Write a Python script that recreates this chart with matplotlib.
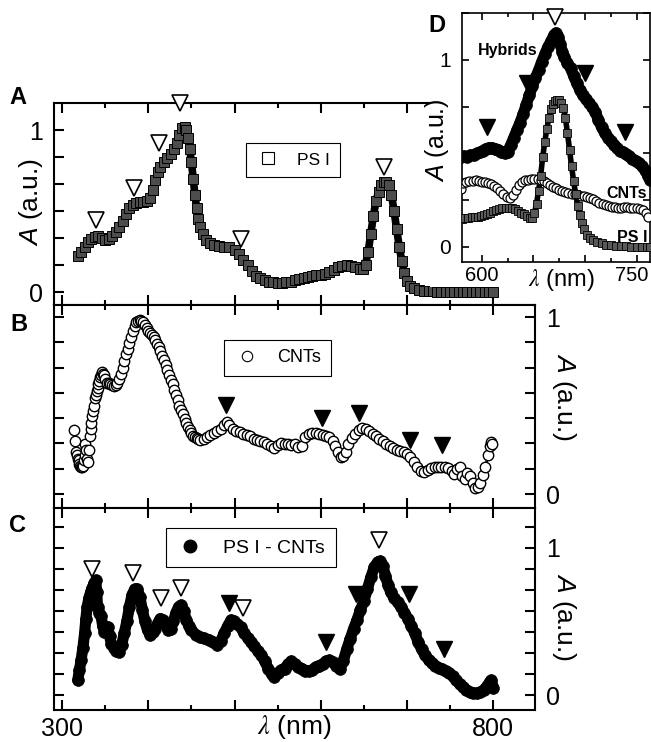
import matplotlib.pyplot as plt
import numpy as np
from matplotlib.lines import Line2D
from matplotlib.patches import Rectangle
from matplotlib.ticker import FixedLocator, MultipleLocator, FuncFormatter, NullFormatter

plt.rcParams['font.family'] = ['Liberation Sans', 'DejaVu Sans']
plt.rcParams['mathtext.fontset'] = 'custom'
plt.rcParams['mathtext.it'] = 'Liberation Sans:italic'
plt.rcParams['mathtext.rm'] = 'Liberation Sans'

# ---- panel A: PS I (nm, a.u.) ----
wl_psi = [318, 322, 326, 330, 334, 338, 342, 346, 350, 354, 358, 362, 366, 370, 374,
          378, 382, 386, 390, 394, 398, 402, 405, 408, 411, 414, 418, 422, 426, 430,
          433, 436, 439, 442, 444, 446, 448, 450, 452, 454, 456, 458, 460, 463, 467,
          471, 476, 482, 488, 494, 500, 505, 510, 515, 520, 525, 530, 535, 540, 545,
          550, 555, 560, 565, 570, 575, 580, 585, 590, 595, 600, 605, 610, 615, 620,
          625, 630, 635, 640, 645, 649, 652, 655, 658, 661, 664, 667, 670, 673, 676,
          679, 682, 685, 688, 691, 694, 697, 700, 704, 708, 714, 720, 725, 730, 735,
          740, 745, 750, 755, 760, 765, 770, 775, 780, 785, 790, 795, 800]
a_psi = [0.22, 0.25, 0.28, 0.31, 0.33, 0.34, 0.345, 0.335, 0.32, 0.325, 0.345, 0.37,
         0.40, 0.44, 0.48, 0.52, 0.54, 0.55, 0.555, 0.555, 0.565, 0.58, 0.63, 0.69,
         0.74, 0.77, 0.80, 0.83, 0.855, 0.88, 0.92, 0.97, 1.01, 1.02, 1.0, 0.95, 0.88,
         0.80, 0.70, 0.60, 0.52, 0.45, 0.40, 0.36, 0.32, 0.30, 0.29, 0.285, 0.28, 0.275,
         0.26, 0.235, 0.20, 0.165, 0.13, 0.10, 0.085, 0.072, 0.064, 0.06, 0.057, 0.057,
         0.06, 0.065, 0.072, 0.08, 0.088, 0.095, 0.10, 0.104, 0.107, 0.11, 0.122, 0.137,
         0.152, 0.163, 0.166, 0.16, 0.152, 0.142, 0.14, 0.17, 0.25, 0.36, 0.47, 0.56,
         0.62, 0.66, 0.68, 0.68, 0.66, 0.60, 0.50, 0.39, 0.28, 0.19, 0.12, 0.07, 0.04,
         0.022, 0.012, 0.008, 0.005, 0.004, 0.003, 0.003, 0.002, 0.002, 0.002, 0.001,
         0.001, 0.001, 0.001, 0.0, 0.0, 0.0, 0.0, 0.0]
tri_a_open_wl = [339, 383, 412, 437, 508, 673]
tri_a_open_y = [0.444, 0.64, 0.92, 1.165, 0.33, 0.77]

# ---- panel B: CNTs ----
wl_cnt = [314, 315, 316, 317, 318, 319, 320, 321, 322, 323, 324, 325, 326, 327, 328,
          329, 330, 331, 332, 333, 334, 335, 336, 337, 338, 339, 340, 341, 342, 343,
          344, 345, 346, 347, 348, 350, 352, 354, 356, 358, 360, 362, 364, 366, 368,
          370, 372, 374, 376, 378, 380, 382, 384, 386, 388, 390, 392, 394, 396, 398,
          400, 402, 404, 406, 408, 410, 412, 414, 416, 418, 420, 422, 424, 426, 428,
          430, 432, 434, 436, 438, 440, 442, 444, 446, 448, 450, 452, 454, 456, 458,
          460, 464, 468, 472, 476, 480, 484, 488, 491, 494, 498, 502, 506, 510, 514,
          518, 522, 526, 530, 534, 538, 542, 546, 550, 554, 558, 562, 566, 570, 574,
          578, 582, 586, 590, 594, 598, 602, 606, 610, 614, 617, 620, 623, 626, 629,
          632, 636, 640, 644, 648, 652, 656, 660, 664, 668, 672, 676, 680, 684, 688,
          692, 696, 700, 704, 708, 712, 716, 720, 724, 728, 732, 736, 740, 744, 748,
          752, 755, 758, 761, 764, 767, 770, 773, 776, 779, 782, 785, 788, 791, 794,
          796, 798, 799]
a_cnt = [0.36, 0.30, 0.24, 0.22, 0.20, 0.19, 0.17, 0.16, 0.15, 0.155, 0.16, 0.19, 0.22,
         0.28, 0.25, 0.20, 0.18, 0.25, 0.33, 0.37, 0.40, 0.44, 0.47, 0.50, 0.54, 0.56,
         0.58, 0.60, 0.62, 0.64, 0.66, 0.675, 0.69, 0.68, 0.67, 0.65, 0.63, 0.625, 0.62,
         0.615, 0.61, 0.615, 0.63, 0.65, 0.68, 0.71, 0.75, 0.79, 0.82, 0.855, 0.885,
         0.92, 0.95, 0.97, 0.98, 0.985, 0.98, 0.97, 0.955, 0.94, 0.92, 0.91, 0.90, 0.885,
         0.87, 0.85, 0.83, 0.81, 0.78, 0.755, 0.73, 0.70, 0.67, 0.645, 0.62, 0.59, 0.56,
         0.53, 0.50, 0.475, 0.45, 0.425, 0.40, 0.38, 0.36, 0.345, 0.33, 0.32, 0.315, 0.31,
         0.305, 0.31, 0.32, 0.335, 0.345, 0.355, 0.37, 0.39, 0.405, 0.39, 0.37, 0.355,
         0.35, 0.34, 0.335, 0.325, 0.31, 0.305, 0.30, 0.295, 0.28, 0.27, 0.26, 0.275,
         0.29, 0.285, 0.28, 0.275, 0.28, 0.265, 0.27, 0.32, 0.34, 0.345, 0.345, 0.34,
         0.335, 0.33, 0.32, 0.30, 0.27, 0.235, 0.21, 0.215, 0.24, 0.28, 0.315, 0.34,
         0.36, 0.375, 0.37, 0.355, 0.34, 0.325, 0.31, 0.30, 0.285, 0.27, 0.26, 0.25,
         0.245, 0.235, 0.225, 0.21, 0.18, 0.15, 0.13, 0.125, 0.135, 0.145, 0.15, 0.15,
         0.155, 0.15, 0.145, 0.13, 0.115, 0.14, 0.15, 0.10, 0.085, 0.12, 0.10, 0.06,
         0.035, 0.04, 0.06, 0.11, 0.15, 0.22, 0.27, 0.295, 0.28]
tri_b_fill_wl = [490, 601, 644, 704, 741]
tri_b_fill_y = [0.505, 0.43, 0.46, 0.307, 0.278]

# ---- panel C: PS I - CNTs ----
wl_mix = [318, 320, 322, 324, 326, 327.5, 329, 331, 333, 335, 337, 339, 340, 341, 343,
          345, 347, 349, 351, 353, 355, 357, 360, 363, 366, 369, 372, 375, 378, 381,
          384, 387, 390, 393, 396, 399, 402, 405, 408, 411, 414, 417, 420, 423, 426,
          429, 432, 435, 438, 441, 444, 447, 450, 455, 460, 465, 470, 475, 480, 484,
          488, 492, 496, 499, 503, 507, 511, 515, 519, 523, 527, 531, 535, 539, 543,
          546, 550, 554, 558, 562, 566, 570, 574, 578, 582, 586, 590, 594, 598, 602,
          606, 610, 614, 618, 622, 626, 630, 634, 638, 642, 646, 650, 654, 658, 662,
          666, 669, 672, 675, 678, 681, 685, 689, 693, 697, 701, 705, 709, 713, 717,
          721, 725, 729, 733, 737, 741, 745, 749, 753, 757, 761, 765, 769, 773, 777,
          781, 785, 789, 793, 796, 798, 800]
a_mix = [0.10, 0.17, 0.24, 0.32, 0.42, 0.52, 0.60, 0.66, 0.70, 0.73, 0.76, 0.78, 0.70,
         0.60, 0.56, 0.54, 0.47, 0.43, 0.46, 0.46, 0.40, 0.35, 0.32, 0.30, 0.295, 0.34,
         0.42, 0.50, 0.60, 0.68, 0.72, 0.72, 0.67, 0.58, 0.50, 0.44, 0.41, 0.43, 0.45,
         0.49, 0.52, 0.51, 0.48, 0.44, 0.45, 0.50, 0.56, 0.60, 0.61, 0.57, 0.51, 0.47,
         0.44, 0.41, 0.395, 0.385, 0.375, 0.36, 0.34, 0.37, 0.42, 0.47, 0.51, 0.50, 0.48,
         0.46, 0.42, 0.39, 0.36, 0.33, 0.30, 0.27, 0.23, 0.18, 0.14, 0.12, 0.15, 0.17,
         0.18, 0.21, 0.23, 0.21, 0.19, 0.18, 0.165, 0.16, 0.17, 0.19, 0.20, 0.21, 0.23,
         0.235, 0.225, 0.20, 0.175, 0.23, 0.31, 0.38, 0.45, 0.51, 0.58, 0.64, 0.72, 0.80,
         0.87, 0.905, 0.91, 0.88, 0.81, 0.75, 0.70, 0.66, 0.63, 0.60, 0.56, 0.52, 0.47,
         0.42, 0.36, 0.31, 0.27, 0.24, 0.22, 0.20, 0.185, 0.175, 0.16, 0.15, 0.13, 0.10,
         0.075, 0.055, 0.035, 0.02, 0.012, 0.012, 0.02, 0.035, 0.06, 0.09, 0.10, 0.05]
tri_c_open_wl = [335, 382, 415, 438, 510, 668]
tri_c_open_y = [0.86, 0.83, 0.66, 0.726, 0.595, 1.054]
tri_c_fill_wl = [494, 606, 641, 702, 743]
tri_c_fill_y = [0.624, 0.363, 0.69, 0.687, 0.313]

# ---- panel D: red region, three samples ----
wl_d_hyb = [580, 583, 586, 589, 592, 595, 598, 601, 604, 607, 610, 613, 616, 619, 622,
            625, 628, 631, 634, 637, 640, 643, 646, 649, 652, 655, 658, 661, 664, 667,
            670, 672, 674, 676, 678, 680, 683, 686, 689, 692, 695, 698, 701, 704, 707,
            710, 713, 716, 719, 722, 725, 728, 731, 734, 737, 740, 743, 746, 749, 752,
            755, 758, 761, 763]
a_d_hyb = [0.48, 0.485, 0.48, 0.49, 0.49, 0.50, 0.505, 0.515, 0.525, 0.53, 0.53, 0.525,
           0.52, 0.51, 0.50, 0.51, 0.545, 0.585, 0.625, 0.665, 0.71, 0.76, 0.81, 0.86,
           0.905, 0.945, 0.99, 1.03, 1.07, 1.10, 1.135, 1.145, 1.125, 1.085, 1.045, 1.015,
           0.985, 0.955, 0.915, 0.875, 0.84, 0.81, 0.79, 0.77, 0.75, 0.72, 0.68, 0.64,
           0.61, 0.585, 0.565, 0.545, 0.53, 0.515, 0.505, 0.495, 0.485, 0.47, 0.46, 0.45,
           0.435, 0.41, 0.38, 0.36]
wl_d_cnt = [580, 582, 585, 588, 591, 594, 597, 600, 603, 606, 609, 612, 615, 618, 621,
            624, 627, 630, 633, 636, 639, 642, 645, 648, 651, 654, 657, 660, 663, 666,
            669, 672, 675, 678, 681, 684, 687, 690, 693, 696, 699, 702, 705, 708, 711,
            714, 717, 720, 723, 726, 729, 732, 735, 738, 741, 744, 747, 750, 753, 756,
            759, 761]
a_d_cnt = [0.31, 0.34, 0.345, 0.35, 0.35, 0.355, 0.35, 0.345, 0.345, 0.34, 0.335, 0.325,
           0.315, 0.30, 0.285, 0.265, 0.26, 0.275, 0.305, 0.33, 0.345, 0.355, 0.36, 0.365,
           0.365, 0.365, 0.36, 0.35, 0.34, 0.33, 0.32, 0.315, 0.305, 0.30, 0.295, 0.29,
           0.285, 0.28, 0.275, 0.27, 0.27, 0.265, 0.26, 0.255, 0.245, 0.235, 0.23, 0.225,
           0.22, 0.215, 0.215, 0.21, 0.21, 0.215, 0.215, 0.21, 0.205, 0.205, 0.20, 0.195,
           0.18, 0.16]
wl_d_psi = [581, 584, 587, 590, 593, 596, 599, 602, 605, 608, 611, 614, 617, 620, 623,
            626, 629, 632, 635, 638, 641, 644, 647, 649, 651, 653, 655, 657, 659, 661,
            663, 665, 667, 669, 671, 673, 675, 677, 679, 681, 683, 685, 687, 689, 691,
            693, 695, 697, 699, 702, 705, 708, 712, 716, 720, 725, 730, 735, 740, 745,
            750, 755, 760, 763]
a_d_psi = [0.15, 0.152, 0.155, 0.157, 0.158, 0.16, 0.165, 0.17, 0.177, 0.182, 0.19,
           0.197, 0.202, 0.205, 0.207, 0.207, 0.205, 0.20, 0.192, 0.183, 0.175, 0.165,
           0.155, 0.155, 0.18, 0.23, 0.30, 0.38, 0.48, 0.56, 0.63, 0.69, 0.735, 0.765,
           0.78, 0.785, 0.785, 0.77, 0.745, 0.69, 0.61, 0.52, 0.43, 0.35, 0.28, 0.22,
           0.17, 0.125, 0.095, 0.065, 0.048, 0.035, 0.025, 0.018, 0.012, 0.008, 0.005,
           0.003, 0.002, 0.001, 0.0, 0.0, 0.0, 0.0]
tri_d_open_wl = [671]
tri_d_open_y = [1.232]
tri_d_fill_wl = [605, 643.5, 700, 738.7]
tri_d_fill_y = [0.643, 0.875, 0.929, 0.616]
d_xtick_labels = [600, 750]

W, H = 651, 742
fig = plt.figure(figsize=(W / 100, H / 100), dpi=100)


def px_axes(x0, y0, x1, y1):
    return fig.add_axes([x0 / W, 1 - y1 / H, (x1 - x0) / W, (y1 - y0) / H])


def only(vals):
    def f(v, pos):
        for t in vals:
            if abs(v - t) < 1e-6:
                return '%g' % t
        return ''
    return FuncFormatter(f)


def style_main(ax, step, nmax):
    ax.set_xlim(290.5, 848.5)
    ax.xaxis.set_major_locator(MultipleLocator(100))
    ax.xaxis.set_minor_locator(MultipleLocator(50))
    ax.yaxis.set_major_locator(FixedLocator([k * step for k in range(nmax + 1)]))
    ax.yaxis.set_major_formatter(only([0, 1]))
    ax.xaxis.set_major_formatter(only([300, 800]))
    ax.tick_params(which='both', direction='in', top=True, bottom=True,
                   left=True, right=True, width=1.5, labelsize=18)
    ax.tick_params(which='major', length=7, pad=8)
    ax.tick_params(axis='x', pad=5)
    ax.tick_params(which='minor', length=3.5)
    for s in ax.spines.values():
        s.set_linewidth(1.5)


def band(ax, x, y, lw, **mk):
    # thick trace under the dense markers
    ax.plot(x, y, color='black', lw=lw, solid_joinstyle='round',
            solid_capstyle='round', zorder=2)
    ax.plot(x, y, ls='none', zorder=3, **mk)


def legend(ax, handle, label, center, size):
    leg = ax.legend([handle], [label], loc='center', bbox_to_anchor=center,
                    frameon=True, fancybox=False, edgecolor='black', fontsize=size,
                    handlelength=1.4, handletextpad=1.0, borderpad=0.55,
                    borderaxespad=0, framealpha=1)
    leg.get_frame().set_linewidth(0.8)
    leg.set_zorder(6)


tri_open = dict(ls='none', marker='v', ms=12, mfc='white', mec='black', mew=1.2,
                clip_on=False, zorder=5)
tri_fill = dict(ls='none', marker='v', ms=12, mfc='black', mec='black', mew=1.0,
                clip_on=False, zorder=5)

# A
axA = px_axes(54, 103, 535, 305)
style_main(axA, 1 / 6, 6)
axA.set_ylim(-0.08, 1.167)
axA.spines['right'].set_visible(False)
axA.tick_params(which='both', right=False, labelbottom=False)
band(axA, wl_psi, a_psi, 5.5, marker='s', ms=7, mfc='0.3', mec='black', mew=0.7)
axA.plot(tri_a_open_wl, tri_a_open_y, **tri_open)
axA.set_ylabel('$A$ (a.u.)', fontsize=19)
axA.yaxis.set_label_coords(-0.019, 0.51)
legend(axA, Line2D([], [], ls='none', marker='s', ms=8, mfc='white', mec='black',
                   mew=0.8), 'PS I', (0.497, 0.718), 12.5)

# B
axB = px_axes(54, 305, 535, 508)
style_main(axB, 1 / 7, 7)
axB.set_ylim(-0.079, 1.068)
axB.tick_params(which='both', labelleft=False, labelright=True, labelbottom=False)
band(axB, wl_cnt, a_cnt, 1.8, marker='o', ms=7.5, mfc='white', mec='black', mew=1.0)
axB.plot(tri_b_fill_wl, tri_b_fill_y, **tri_fill)
axB.yaxis.set_label_position('right')
axB.set_ylabel('$A$ (a.u.)', fontsize=19, rotation=270, va='bottom')
axB.yaxis.set_label_coords(1.031, 0.547)
legend(axB, Line2D([], [], ls='none', marker='o', ms=7.5, mfc='white', mec='black',
                   mew=0.8), 'CNTs', (0.4647, 0.739), 13)

# C
axC = px_axes(54, 508, 535, 710)
style_main(axC, 1 / 7, 8)
axC.set_ylim(-0.102, 1.272)
axC.tick_params(which='both', labelleft=False, labelright=True)
band(axC, wl_mix, a_mix, 8, marker='o', ms=8.5, mfc='black', mec='black', mew=0.5)
axC.plot(tri_c_open_wl, tri_c_open_y, **tri_open)
axC.plot(tri_c_fill_wl, tri_c_fill_y, **tri_fill)
axC.yaxis.set_label_position('right')
axC.set_ylabel('$A$ (a.u.)', fontsize=19, rotation=270, va='bottom')
axC.yaxis.set_label_coords(1.031, 0.46)
axC.set_xlabel(r'$\lambda$ (nm)', fontsize=19, math_fontfamily='stix')
axC.xaxis.set_label_coords(0.5, -0.015)
legend(axC, Line2D([], [], ls='none', marker='o', ms=9, mfc='black', mec='black'),
       'PS I - CNTs', (0.4096, 0.802), 14)

# white backing behind the inset
fig.add_artist(Rectangle((430 / W, 1 - 287 / H), (W - 430) / W, 287 / H,
                         transform=fig.transFigure, facecolor='white',
                         edgecolor='none', zorder=1))

# D inset
axD = px_axes(461.7, 13.3, 650, 261.7)
axD.set_zorder(2)
axD.set_xlim(580.5, 763)
axD.set_ylim(-0.08, 1.25)
axD.xaxis.set_major_locator(MultipleLocator(50))
axD.xaxis.set_minor_locator(MultipleLocator(25))
axD.yaxis.set_major_locator(MultipleLocator(0.25))
axD.xaxis.set_major_formatter(NullFormatter())
axD.yaxis.set_major_formatter(only([0, 1]))
axD.tick_params(which='both', direction='in', top=True, right=True, width=1.2,
                labelsize=15)
axD.tick_params(which='major', length=5)
axD.tick_params(which='minor', length=3)
axD.tick_params(axis='y', pad=8)
for s in axD.spines.values():
    s.set_linewidth(1.2)
band(axD, wl_d_cnt, a_d_cnt, 1.2, marker='o', ms=6.5, mfc='white', mec='black', mew=0.9)
band(axD, wl_d_psi, a_d_psi, 4, marker='s', ms=5.5, mfc='0.35', mec='black', mew=0.6)
band(axD, wl_d_hyb, a_d_hyb, 8, marker='o', ms=8.5, mfc='black', mec='black', mew=0.5)
axD.plot(tri_d_open_wl, tri_d_open_y, **tri_open)
axD.plot(tri_d_fill_wl, tri_d_fill_y, **tri_fill)
# x tick labels of the inset, kept inside the picture edge
for v in d_xtick_labels:
    xf = axD.transData.transform((v, 0))[0]
    xf = min(xf, 632)
    fig.text(xf / W, 1 - 266 / H, '%d' % v, ha='center', va='top', fontsize=14.5)
axD.set_ylabel('$A$ (a.u.)', fontsize=18)
axD.yaxis.set_label_coords(-0.055, 0.49)
axD.set_xlabel(r'$\lambda$ (nm)', fontsize=17, math_fontfamily='stix')
axD.xaxis.set_label_coords(0.531, -0.02)
axD.text(0.246, 0.852, 'Hybrids', transform=axD.transAxes, ha='center', va='center',
         fontsize=11.5, fontweight='bold', zorder=6)
axD.text(0.985, 0.275, 'CNTs', transform=axD.transAxes, ha='right', va='center',
         fontsize=11.5, fontweight='bold', zorder=6)
axD.text(0.985, 0.097, 'PS I', transform=axD.transAxes, ha='right', va='center',
         fontsize=11.5, fontweight='bold', zorder=6)

# panel letters
for lab, x, y in [('A', 18, 97), ('B', 19, 325), ('C', 18, 525), ('D', 437, 26)]:
    fig.text(x / W, 1 - y / H, lab, ha='center', va='center', fontsize=17,
             fontweight='bold', zorder=6)

fig.savefig('out.png', dpi=100)
